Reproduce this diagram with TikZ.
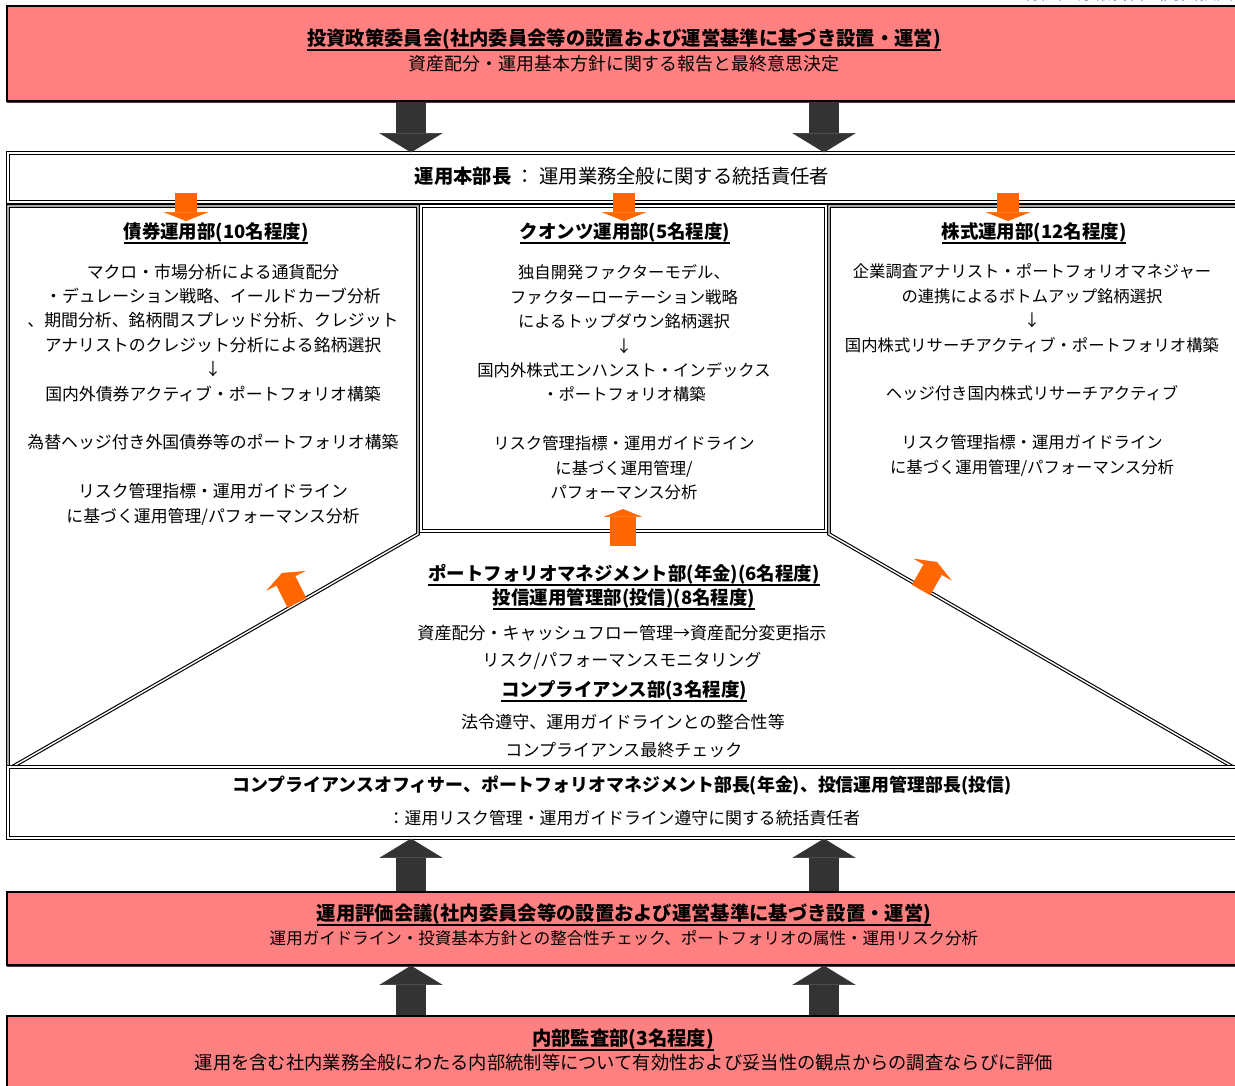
\documentclass[tikz,border=0pt]{standalone}
\usepackage{fontspec}
\setmainfont{Noto Sans CJK JP}
\usetikzlibrary{arrows.meta,fit,shadows}
\definecolor{salmon}{RGB}{255,128,128}
\definecolor{darkarrow}{RGB}{51,51,51}
\definecolor{orangeA}{RGB}{255,102,0}
\newcommand\ulx[1]{\setbox0=\hbox{#1}\leavevmode\rlap{\rule[-3pt]{\wd0}{1pt}}\box0}
\begin{document}
\begin{tikzpicture}[x=0.02cm,y=-0.02cm,
  redbox/.style={draw=black,line width=0.7pt,fill=salmon,inner sep=0pt,
     drop shadow={shadow xshift=0pt,shadow yshift=-1.3pt,fill=black!75,opacity=1}},
  dblbox/.style={draw=black,double=white,double distance=0.8pt,line width=0.65pt,inner sep=0pt},
  dblline/.style={draw=black,double=white,double distance=0.8pt,line width=0.65pt},
  darkarr/.style={draw=darkarrow,line width=17pt,-{Triangle[width=36pt,length=11pt,line width=0.3pt]}},
  orarr/.style={draw=orangeA,line width=12pt,-{Triangle[width=25pt,length=5pt,line width=0.3pt]}},
  orarrB/.style={draw=orangeA,line width=14.5pt,-{Triangle[width=22pt,length=4.5pt,line width=0.3pt]}},
  hd/.style={inner sep=0pt,font=\fontsize{11}{13}\selectfont\bfseries},
  hdsub/.style={inner sep=0pt,font=\fontsize{10.2}{12}\selectfont},
  ttl/.style={inner sep=0pt,font=\fontsize{10.5}{12.5}\selectfont\bfseries},
  txt/.style={inner sep=0pt,font=\fontsize{9.7}{12}\selectfont},
  colbody/.style={inner sep=0pt,align=center,font=\fontsize{9.3}{13.9}\selectfont},
]
\useasboundingbox (0,0) rectangle (1235,1086);

% page header (cut off at the top edge, as in the source)
\node[anchor=west,inner sep=0pt,font=\fontsize{10}{12}\selectfont] (docT) at (1023,-7) {有価証券報告書（内国投資信託受益証券）};

% boxes
\node[redbox,fit={(7,6)(1240,101)}] (policy) {};
\node[dblbox,fit={(8,153)(1240,202)}] (chief) {};
\node[dblbox,fit={(421,206)(826,531)}] (quant) {};
\coordinate (lbot) at (12,767);
\coordinate (lmid) at (418,534);
\coordinate (ltop) at (418,206);
\coordinate (ltl) at (8,206);
\coordinate (lbl) at (8,767);
\draw[dblline] (lbot) -- (lmid) -- (ltop) -- (ltl) -- (lbl);
\coordinate (rbot) at (1233,767);
\coordinate (rmid) at (829,534);
\coordinate (rtop) at (829,206);
\coordinate (rtr) at (1240,206);
\draw[dblline] (rbot) -- (rmid) -- (rtop) -- (rtr);
\node[dblbox,fit={(8,767)(1240,838)}] (officer) {};
\node[redbox,fit={(7,892)(1240,965)}] (evalmtg) {};
\node[redbox,fit={(7,1016)(1240,1100)}] (audit) {};

% texts
\node[hd] (policyT) at (624,40) {\ulx{投資政策委員会(社内委員会等の設置および運営基準に基づき設置・運営)}};
\node[hdsub] (policyS) at (624,64) {資産配分・運用基本方針に関する報告と最終意思決定};

\node[inner sep=0pt,font=\fontsize{11}{13}\selectfont] (chiefT) at (622,176) {{\bfseries 運用本部長} ： 運用業務全般に関する統括責任者};

\node[ttl] (bondT) at (216,233) {\ulx{債券運用部(10名程度)}};
\node[ttl] (quantT) at (625,233) {\ulx{クオンツ運用部(5名程度)}};
\node[ttl] (eqT) at (1034,233) {\ulx{株式運用部(12名程度)}};

\node[colbody,font=\fontsize{9.6}{13.9}\selectfont] (bondB) at (213,394.5) {マクロ・市場分析による通貨配分\\
・デュレーション戦略、イールドカーブ分析\\
、期間分析、銘柄間スプレッド分析、クレジット\\
アナリストのクレジット分析による銘柄選択\\
↓\\
国内外債券アクティブ・ポートフォリオ構築\\[13.9pt]
為替ヘッジ付き外国債券等のポートフォリオ構築\\[13.9pt]
リスク管理指標・運用ガイドライン\\
に基づく運用管理/パフォーマンス分析};

\node[colbody] (quantB) at (624,382.5) {独自開発ファクターモデル、\\
ファクターローテーション戦略\\
によるトップダウン銘柄選択\\
↓\\
国内外株式エンハンスト・インデックス\\
・ポートフォリオ構築\\[13.9pt]
リスク管理指標・運用ガイドライン\\
に基づく運用管理/\\
パフォーマンス分析};

\node[colbody] (eqB) at (1032,370) {企業調査アナリスト・ポートフォリオマネジャー\\
の連携によるボトムアップ銘柄選択\\
↓\\
国内株式リサーチアクティブ・ポートフォリオ構築\\[13.9pt]
ヘッジ付き国内株式リサーチアクティブ\\[13.9pt]
リスク管理指標・運用ガイドライン\\
に基づく運用管理/パフォーマンス分析};

\node[ttl] (pmT) at (624,575) {\ulx{ポートフォリオマネジメント部(年金)(6名程度)}};
\node[ttl] (itT) at (624,599) {\ulx{投信運用管理部(投信)(8名程度)}};
\node[txt] (pm1) at (622,633) {資産配分・キャッシュフロー管理→資産配分変更指示};
\node[txt] (pm2) at (622,661) {リスク/パフォーマンスモニタリング};
\node[ttl] (compT) at (624,691) {\ulx{コンプライアンス部(3名程度)}};
\node[txt] (comp1) at (623,722) {法令遵守、運用ガイドラインとの整合性等};
\node[txt] (comp2) at (624,750) {コンプライアンス最終チェック};

\node[inner sep=0pt,font=\fontsize{10.2}{12}\selectfont\bfseries] (officerT) at (622,785) {コンプライアンスオフィサー、ポートフォリオマネジメント部長(年金)、投信運用管理部長(投信)};
\node[inner sep=0pt,font=\fontsize{9.6}{12}\selectfont] (officerS) at (624,818) {：運用リスク管理・運用ガイドライン遵守に関する統括責任者};

\node[hd] (evalT) at (624,915) {\ulx{運用評価会議(社内委員会等の設置および運営基準に基づき設置・運営)}};
\node[inner sep=0pt,font=\fontsize{9.4}{12}\selectfont] (evalS) at (624,938) {運用ガイドライン・投資基本方針との整合性チェック、ポートフォリオの属性・運用リスク分析};

\node[hd] (auditT) at (623,1040) {\ulx{内部監査部(3名程度)}};
\node[inner sep=0pt,font=\fontsize{10.4}{12}\selectfont] (auditS) at (624,1063) {運用を含む社内業務全般にわたる内部統制等について有効性および妥当性の観点からの調査ならびに評価};

% dark block arrows
\coordinate (ax1) at (411,0);
\coordinate (ax2) at (824,0);
\draw[darkarr] (policy.south -| ax1) -- (chief.north -| ax1);
\draw[darkarr] (policy.south -| ax2) -- (chief.north -| ax2);
\draw[darkarr] (evalmtg.north -| ax1) -- (officer.south -| ax1);
\draw[darkarr] (evalmtg.north -| ax2) -- (officer.south -| ax2);
\draw[darkarr] (audit.north -| ax1) -- (evalmtg.south -| ax1);
\draw[darkarr] (audit.north -| ax2) -- (evalmtg.south -| ax2);

% orange arrows
\coordinate (o1s) at (186,193); \coordinate (o1e) at (186,221);
\coordinate (o2s) at (624,193); \coordinate (o2e) at (624,221);
\coordinate (o3s) at (1008,193); \coordinate (o3e) at (1008,221);
\draw[orarr] (o1s) -- (o1e);
\draw[orarr] (o2s) -- (o2e);
\draw[orarr] (o3s) -- (o3e);
\coordinate (o4s) at (623,546); \coordinate (o4e) at (623,509);
\draw[orarrB] (o4s) -- (o4e);
\coordinate (o5s) at (297,603); \coordinate (o5e) at (282,573);
\draw[orarr] (o5s) -- (o5e);
\coordinate (o6s) at (921,590); \coordinate (o6e) at (937,562);
\draw[orarr] (o6s) -- (o6e);
\end{tikzpicture}
\end{document}
